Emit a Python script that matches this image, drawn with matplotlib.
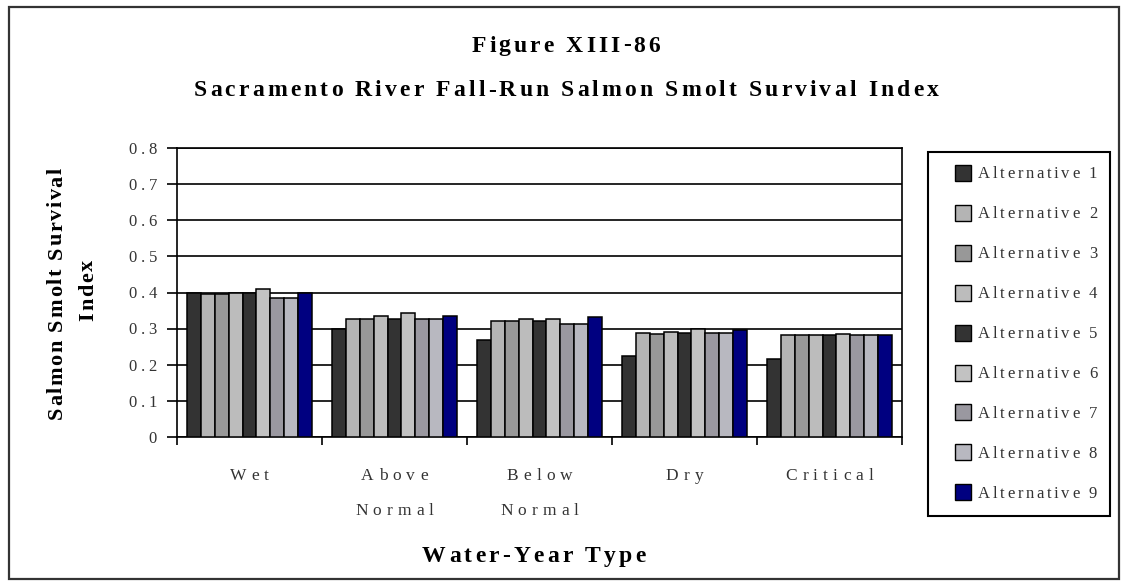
import numpy as np
import matplotlib
matplotlib.use("Agg")
import matplotlib.pyplot as plt
from matplotlib.patches import Rectangle
from matplotlib.transforms import offset_copy
from matplotlib.font_manager import FontProperties, findfont, get_font

SERIF = "Liberation Serif"
W, H = 1122, 581

categories = ["Wet", "Above\nNormal", "Below\nNormal", "Dry", "Critical"]
alternatives = ["Alternative 1", "Alternative 2", "Alternative 3",
                "Alternative 4", "Alternative 5", "Alternative 6",
                "Alternative 7", "Alternative 8", "Alternative 9"]
alt1 = [0.400, 0.298, 0.269, 0.224, 0.217]
alt2 = [0.395, 0.328, 0.320, 0.287, 0.282]
alt3 = [0.395, 0.328, 0.320, 0.286, 0.282]
alt4 = [0.400, 0.334, 0.328, 0.291, 0.282]
alt5 = [0.400, 0.326, 0.320, 0.289, 0.282]
alt6 = [0.410, 0.342, 0.328, 0.298, 0.286]
alt7 = [0.386, 0.328, 0.314, 0.287, 0.282]
alt8 = [0.386, 0.328, 0.314, 0.287, 0.282]
alt9 = [0.400, 0.334, 0.331, 0.296, 0.282]
yticks = [0, 0.1, 0.2, 0.3, 0.4, 0.5, 0.6, 0.7, 0.8]
ytick_labels = ["0", "0.1", "0.2", "0.3", "0.4", "0.5", "0.6", "0.7", "0.8"]

series = [alt1, alt2, alt3, alt4, alt5, alt6, alt7, alt8, alt9]
colors = ["#333333", "#b4b4b4", "#989898", "#bcbcbc", "#333333",
          "#c2c2c2", "#9a98a0", "#b8b8c0", "#000080"]

fig = plt.figure(figsize=(W / 100, H / 100), dpi=100)
fig.patch.set_facecolor("white")


def fx(x):
    return x / W


def fy(y):
    return 1 - y / H


def advances(s, size, weight):
    prop = FontProperties(family=SERIF, size=size, weight=weight)
    font = get_font(findfont(prop))
    font.set_size(size, 72)
    return [font.load_char(ord(c)).linearHoriAdvance / 65536 for c in s]


def spaced_text(x, y, s, size, track, transform, weight="normal", ha="center",
                rotation=0, dx=0.0, dy=0.0, color="black"):
    # letter-spaced text: each glyph placed on its own, offsets in points
    adv = advances(s, size, weight)
    total = sum(adv) + track * (len(s) - 1)
    pos = {"left": 0.0, "center": -total / 2, "right": -total}[ha]
    for ch, a in zip(s, adv):
        if ch != " ":
            ox, oy = (dx, dy + pos) if rotation == 90 else (dx + pos, dy)
            tr = offset_copy(transform, fig=fig, x=ox, y=oy, units="points")
            fig.text(x, y, ch, transform=tr, fontsize=size, fontweight=weight,
                     family=SERIF, ha="left", va="baseline", rotation=rotation,
                     rotation_mode="anchor", color=color)
        pos += a + track


ax = fig.add_axes([fx(177), fy(437), fx(902) - fx(177), fy(148) - fy(437)])
n = len(series)
width = 1 / (n + 1.5)
x = np.arange(len(categories))
for j, (vals, c) in enumerate(zip(series, colors)):
    ax.bar(x + (j - (n - 1) / 2) * width, vals, width, color=c,
           edgecolor="black", linewidth=1.1, zorder=3)

ax.set_xlim(-0.5, len(categories) - 0.5)
ax.set_ylim(0, 0.8)
ax.set_yticks(yticks)
ax.set_yticklabels([])
ax.set_xticks(np.arange(len(categories) + 1) - 0.5)
ax.set_xticklabels([])
ax.tick_params(axis="y", direction="out", length=7.2, width=1.2)
ax.tick_params(axis="x", direction="out", length=5.8, width=1.2)
ax.yaxis.grid(True, color="black", linewidth=1.2, zorder=0)
ax.set_axisbelow(True)
for sp in ax.spines.values():
    sp.set_linewidth(1.2)
    sp.set_color("black")

ytr = ax.get_yaxis_transform()
for v, lab in zip(yticks, ytick_labels):
    spaced_text(0, v, lab, 12, 2.9, ytr, ha="right", dx=-14.4, dy=-4.2,
                color="#333333")

xtr = ax.get_xaxis_transform()
for i, lab in enumerate(categories):
    for k, line in enumerate(lab.split("\n")):
        spaced_text(i, 0, line, 12.5, 3.7, xtr, dy=-31 - 25.2 * k,
                    color="#333333")

# titles and axis titles
spaced_text(fx(566), fy(51.5), "Figure XIII-86", 17, 2.2, fig.transFigure,
            weight="bold")
spaced_text(fx(566), fy(96.5),
            "Sacramento River Fall-Run Salmon Smolt Survival Index", 17, 2.27,
            fig.transFigure, weight="bold")
spaced_text(fx(534), fy(562), "Water-Year Type", 17, 2.3, fig.transFigure,
            weight="bold")
spaced_text(fx(62), fy(293.5), "Salmon Smolt Survival", 16, 1.2,
            fig.transFigure, weight="bold", rotation=90)
spaced_text(fx(93), fy(290), "Index", 16, 1.2, fig.transFigure,
            weight="bold", rotation=90)

# legend box
fig.add_artist(Rectangle((fx(928), fy(516)), fx(1110) - fx(928),
                         fy(152) - fy(516), transform=fig.transFigure,
                         fill=False, edgecolor="black", linewidth=1.5))
for j, (lab, c) in enumerate(zip(alternatives, colors)):
    yc = 173 + 39.9 * j
    fig.add_artist(Rectangle((fx(955), fy(yc + 8)), fx(16), 16 / H,
                             transform=fig.transFigure, facecolor=c,
                             edgecolor="black", linewidth=1.0))
    spaced_text(fx(978), fy(yc + 5.5), lab, 12, 1.9, fig.transFigure,
                ha="left", color="#333333")

# outer frame
fig.add_artist(Rectangle((fx(9), fy(579)), fx(1119) - fx(9), fy(7) - fy(579),
                         transform=fig.transFigure, fill=False,
                         edgecolor="#333333", linewidth=1.6))

fig.savefig("out.png", dpi=100)
